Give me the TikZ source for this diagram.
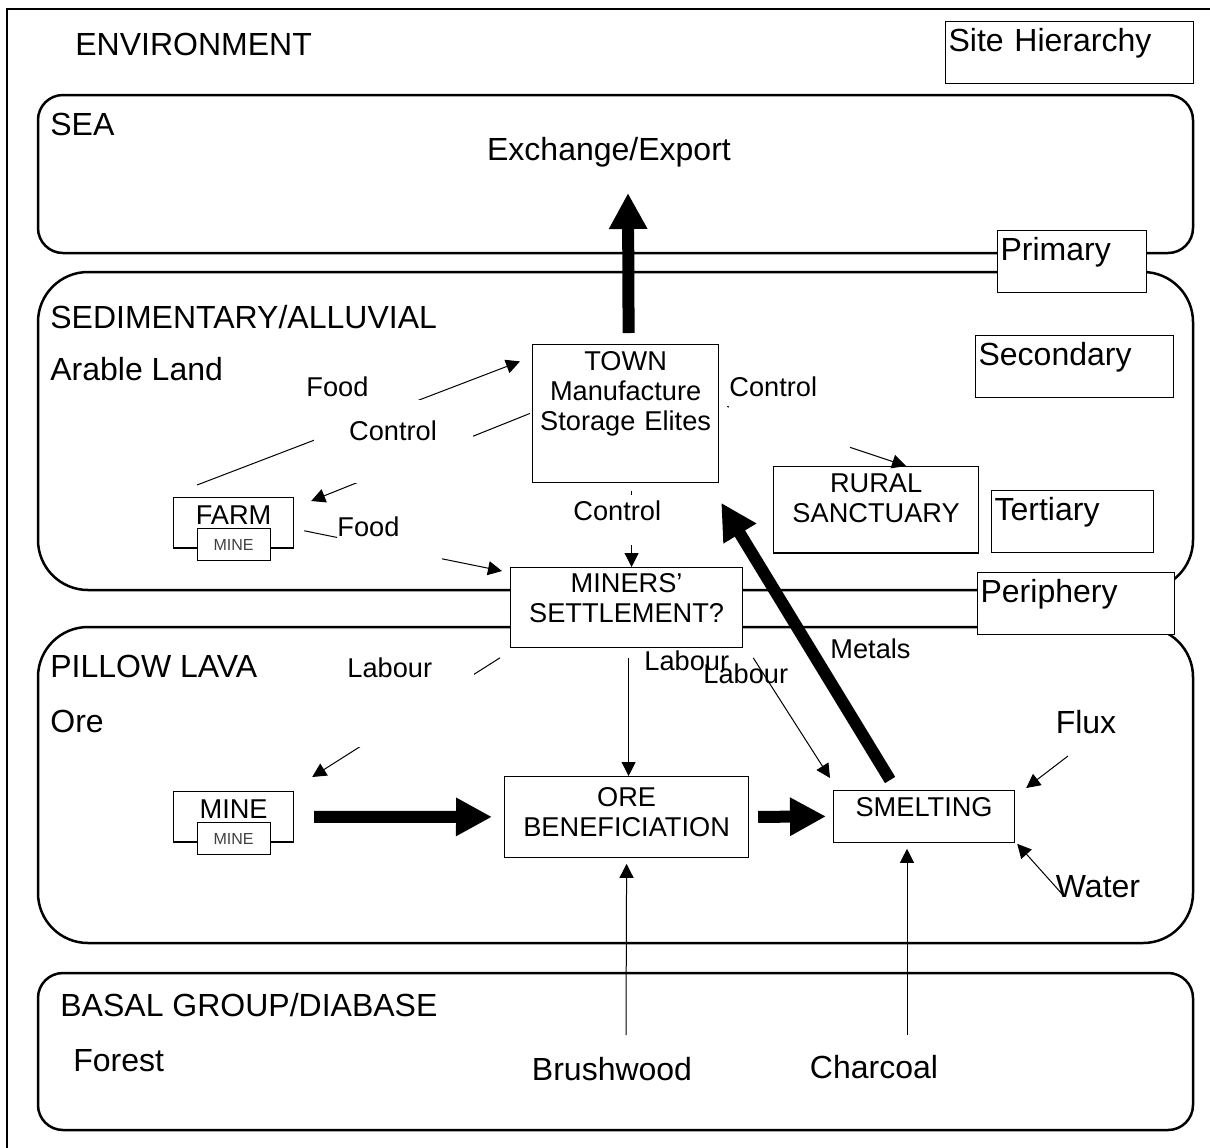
\documentclass[tikz,border=0pt]{standalone}
\usepackage{fontspec}
\setmainfont{Liberation Sans}
\usepackage{tikz}
\usetikzlibrary{calc,positioning,arrows.meta}
\newcommand{\bigtxt}{\fontsize{16}{18}\selectfont}
\newcommand{\smalltxt}{\fontsize{13.6}{15}\selectfont}
\newcommand{\tinytxt}{\fontsize{8}{9}\selectfont}
\tikzset{
  line/.style={-{Triangle[length=7pt,width=7pt]}, line width=0.5pt},
  fat/.style={-{Triangle[length=18pt,width=18pt]}, line width=6pt},
  region/.style={draw, line width=1.25pt},
  site/.style={draw, fill=white, line width=0.6pt, anchor=north west, align=center, inner xsep=0pt, inner ysep=3.5pt, font=\smalltxt},
  minebox/.style={draw, fill=white, line width=0.6pt, inner sep=0pt, minimum width=36.5pt, minimum height=16pt, font=\tinytxt, text=black!75},
  tag/.style={draw, fill=white, line width=0.6pt, anchor=north west, align=left, inner xsep=1.5pt, inner ysep=3.5pt, text depth=12.5pt, font=\bigtxt},
  zone/.style={anchor=base west, inner sep=0pt, font=\bigtxt},
  flow/.style={anchor=base west, inner sep=0pt, font=\smalltxt},
  mask/.style={flow, fill=white}
}
\begin{document}
\begin{tikzpicture}[x=0.5pt, y=-0.5pt]
  \useasboundingbox (0,0) rectangle (1210,1147);
  % frame and layers
  \draw[line width=1pt] (7,9) rectangle (1230,1170);
  \draw[region, rounded corners=12.5pt] (38,95) rectangle (1193,253);
  \draw[region, rounded corners=25pt] (38,272) rectangle (1193,590);
  \draw[region, rounded corners=25pt] (38,627) rectangle (1193,943);
  \draw[region, rounded corners=12.5pt] (38,973) rectangle (1193,1130);

  % site hierarchy
  \node[tag, text width=121pt] (hier) at (945,21) {Site Hierarchy};
  \node[tag, text width=71.5pt] (prim) at (997,230) {Primary};
  \node[tag, text width=96pt] (sec) at (975,335) {Secondary};
  \node[tag, text width=78pt] (tert) at (991,490) {Tertiary};
  \node[tag, text width=95.5pt] (peri) at (977,572) {Periphery};

  % sites
  \node[site, text width=93pt, text depth=52.3pt] (town) at (532,344) {TOWN\\Manufacture\\Storage Elites};
  \node[site, text width=102.5pt, text depth=26.8pt] (rural) at (773,466) {RURAL\\SANCTUARY};
  \node[site, text width=60pt, inner ysep=4pt, text depth=7.8pt] (farm) at (173,497) {FARM};
  \node[minebox] (farmmine) at ($(farm.south)+(0,-4)$) {MINE};
  \node[site, text width=116pt, inner ysep=3pt, text depth=24.3pt] (miners) at (510,567) {MINERS’\\SETTLEMENT?};
  \node[site, text width=60pt, inner ysep=4pt, text depth=7.8pt] (mine) at (173,791) {MINE};
  \node[minebox] (minemine) at ($(mine.south)+(0,-4)$) {MINE};
  \node[site, text width=122pt, inner ysep=5.5pt, text depth=19.8pt] (ore) at (504,776) {ORE\\BENEFICIATION};
  \node[site, text width=90.5pt, text depth=9.3pt] (smelt) at (833,790) {SMELTING};

  % free ends
  \coordinate (seaport) at (628,193);
  \coordinate (brushtop) at (626,1035);
  \coordinate (charcoaltop) at (907,1035);
  \coordinate (fluxtail) at (1068,756);
  \coordinate (watertail) at (1063,895);

  % flows
  \draw[line] ($(farm.north west)+(24,-12)$) -- ($(town.west)+(-12,-52)$);
  \draw[line] ($(town.west)+(-2,0)$) -- ($(farm.north east)+(17,4)$);
  \draw[line] ($(farm.east)+(10,8)$) -- ($(miners.north west)+(-8,4)$);
  \draw[line] ($(town.east)+(8,-7)$) -- ($(rural.north)+(30,0)$);
  \draw[line] ($(town.south)+(6,8)$) -- ($(miners.north)+(5,0)$);
  \draw[line] ($(miners.south west)+(-10,10)$) -- ($(mine.north east)+(18,-14)$);
  \draw[line] ($(miners.south)+(2,10)$) -- ($(ore.north)+(2,0)$);
  \draw[line] ($(miners.south east)+(10,10)$) -- ($(smelt.north west)+(-3,-12)$);
  \draw[line] (brushtop) -- ($(ore.south)+(0,6)$);
  \draw[line] (charcoaltop) -- ($(charcoaltop |- smelt.south)+(0,6)$);
  \draw[line] (fluxtail) -- ($(smelt.north east)+(11,-2)$);
  \draw[line] (watertail) -- ($(smelt.south east)+(2,1)$);
  \draw[fat] ($(town.north)+(3,-11)$) -- (seaport);
  \draw[fat] ($(smelt.north)+(-34,-10)$) -- ($(town.south east)+(2,20)$);
  \draw[fat] ($(mine.east)+(20,0)$) -- ($(ore.west)+(-12,0)$);
  \draw[fat] ($(ore.east)+(9,0)$) -- ($(smelt.west)+(-7,0)$);

  % flow labels
  \node[flow] (food1) at (306,396) {Food};
  \node[mask, anchor=base, text width=79.5pt, align=center, text height=20pt, text depth=21.5pt] (ctrl1) at (393,440) {Control};
  \node[mask, text width=60.5pt, align=left, text height=12pt, text depth=28pt] (ctrl2) at (729,396) {Control};
  \node[mask, text width=42pt, align=left, text height=12.5pt, text depth=12.5pt] (ctrl3) at (573,520) {Control};
  \node[mask, text width=52.5pt, align=left, text height=12pt, text depth=13pt] (food2) at (337,536) {Food};
  \node[mask, text width=63.5pt, align=left, text height=13.5pt, text depth=35pt] (lab1) at (347,677) {Labour};
  \node[flow] (lab2) at (644,670) {Labour};
  \node[flow] (lab3) at (703,683) {Labour};
  \node[flow] (metals) at (830,658) {Metals};

  % layer labels
  \node[zone] (envlab) at (75,55) {ENVIRONMENT};
  \node[zone] (sealab) at (50,135) {SEA};
  \node[zone, anchor=base] (export) at (609,160) {Exchange/Export};
  \node[zone] (sedlab) at (50,328) {SEDIMENTARY/ALLUVIAL};
  \node[zone] (arable) at (50,380) {Arable Land};
  \node[zone] (lavalab) at (50,677) {PILLOW LAVA};
  \node[zone] (orelab) at (50,732) {Ore};
  \node[zone] (basallab) at (60,1016) {BASAL GROUP/DIABASE};
  \node[zone] (forest) at (73,1071) {Forest};
  \node[zone, anchor=base] (brush) at (612,1080) {Brushwood};
  \node[zone, anchor=base] (charcoal) at (874,1078) {Charcoal};
  \node[zone, anchor=base] (flux) at (1086,733) {Flux};
  \node[zone, anchor=base] (water) at (1098,897) {Water};
\end{tikzpicture}
\end{document}
